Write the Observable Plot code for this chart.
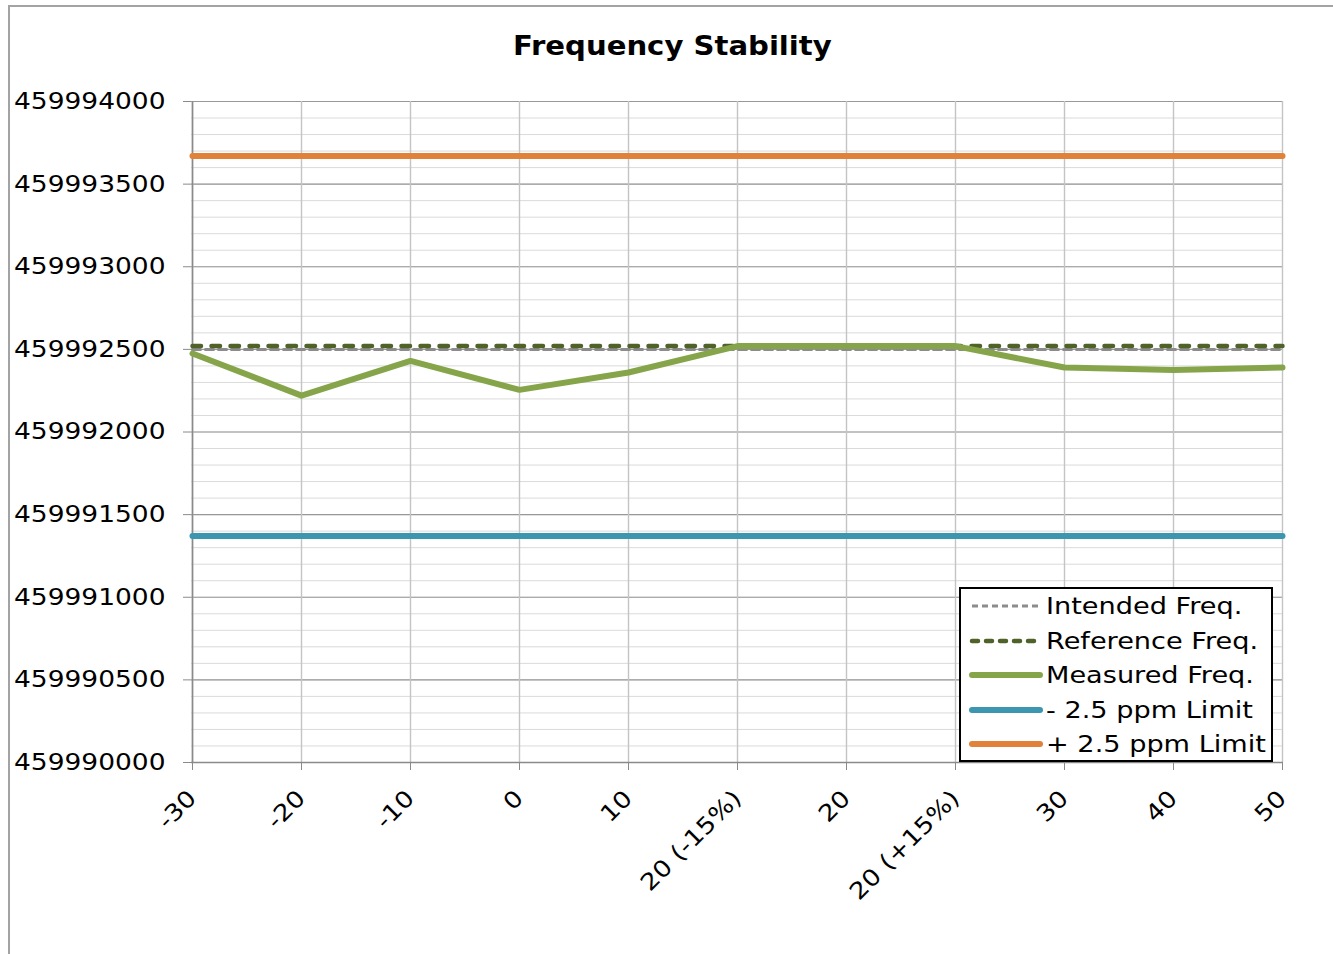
<!DOCTYPE html>
<html>
<head>
<meta charset="utf-8">
<script src="https://cdn.jsdelivr.net/npm/d3@7"></script>
<script src="https://cdn.jsdelivr.net/npm/@observablehq/plot@0.6"></script>
<style>
  html, body { margin: 0; padding: 0; background: #fff; width: 1333px; height: 954px; overflow: hidden; }
  #wrap { position: relative; width: 1333px; height: 954px; font-family: "DejaVu Sans", Verdana, sans-serif; }
  #frame { position: absolute; left: 8px; top: 5px; width: 1400px; height: 1000px; border-left: 2px solid #a3a3a3; border-top: 2px solid #a3a3a3; box-sizing: border-box; pointer-events: none; }
  #chart { position: absolute; left: 0; top: 0; }
  #title { position: absolute; left: 0; top: 31px; width: 1344px; text-align: center; font-weight: bold; font-size: 26px; line-height: 30px; color: #000; }
  #title span { display: inline-block; transform: scaleX(1.12); transform-origin: center; }
  #legend { position: absolute; left: 959px; top: 587px; width: 314px; height: 175px; border: 2px solid #000; box-sizing: border-box; background: #fff; }
  .row { position: absolute; left: 0; height: 30px; width: 310px; }
  .row svg { position: absolute; left: 7px; top: 0; }
  .row span { position: absolute; left: 85px; top: 0; line-height: 30px; font-size: 23px; color: #000; white-space: nowrap; transform: scaleX(1.18); transform-origin: left center; }
</style>
</head>
<body>
<div id="wrap">
  <div id="chart"></div>
  <div id="frame"></div>
  <div id="title"><span>Frequency Stability</span></div>
  <div id="legend"></div>
</div>
<script>
// ---- Data ----
const categories = ["-30", "-20", "-10", "0", "10", "20 (-15%)", "20", "20 (+15%)", "30", "40", "50"];
const measuredFreq = [459992475, 459992220, 459992430, 459992255, 459992360, 459992520, 459992520, 459992520, 459992390, 459992375, 459992390];
const intendedFreq = 459992500;
const referenceFreq = 459992520;
const lowerLimit = 459991370;
const upperLimit = 459993670;
const yTicks = [459990000, 459990500, 459991000, 459991500, 459992000, 459992500, 459993000, 459993500, 459994000];
const seriesNames = ["Intended Freq.", "Reference Freq.", "Measured Freq.", "- 2.5 ppm Limit", "+ 2.5 ppm Limit"];

// ---- Styles ----
const colors = {intended: "#8c8c8c", reference: "#4f6228", measured: "#86a54a", lower: "#3c96b0", upper: "#e0823a"};

const yMin = yTicks[0], yMax = yTicks[yTicks.length - 1];
const minorTicks = d3.range(yMin, yMax + 1, 100);

const constSeries = (v) => categories.map(c => ({cat: c, value: v}));
const measuredData = categories.map((c, i) => ({cat: c, value: measuredFreq[i]}));

const plot = Plot.plot({
  width: 1333,
  height: 954,
  marginLeft: 191,
  marginRight: 50,
  marginTop: 101,
  marginBottom: 192,
  style: {fontFamily: "DejaVu Sans, Verdana, sans-serif", fontSize: "23px", color: "#000", background: "transparent", overflow: "visible"},
  x: {type: "point", domain: categories, padding: 0},
  y: {domain: [yMin, yMax]},
  marks: [
    Plot.ruleY(minorTicks, {stroke: "#dadada", strokeWidth: 1}),
    Plot.ruleY(yTicks, {stroke: "#989898", strokeWidth: 1.2}),
    Plot.ruleX(categories, {stroke: "#c4c4c4", strokeWidth: 1.4}),
    Plot.ruleX([categories[0]], {stroke: "#8a8a8a", strokeWidth: 1.6}),
    Plot.ruleY([yMin], {stroke: "#8a8a8a", strokeWidth: 1.6}),
    Plot.axisY({ticks: yTicks, tickFormat: d3.format("d"), tickSize: 8, tickPadding: 18, stroke: "#8a8a8a", label: null}),
    Plot.axisX({tickRotate: -45, tickSize: 8, tickPadding: 24, stroke: "#8a8a8a", label: null}),
    Plot.line(constSeries(intendedFreq), {x: "cat", y: "value", stroke: colors.intended, strokeWidth: 3, strokeDasharray: "8,5"}),
    Plot.line(constSeries(referenceFreq), {x: "cat", y: "value", stroke: colors.reference, strokeWidth: 4.5, strokeDasharray: "8.5,10.5", strokeLinecap: "round"}),
    Plot.line(measuredData, {x: "cat", y: "value", stroke: colors.measured, strokeWidth: 6}),
    Plot.line(constSeries(lowerLimit), {x: "cat", y: "value", stroke: colors.lower, strokeWidth: 6}),
    Plot.line(constSeries(upperLimit), {x: "cat", y: "value", stroke: colors.upper, strokeWidth: 6})
  ]
});
document.getElementById("chart").appendChild(plot);

// widen tick labels (Verdana-like proportions)
plot.querySelectorAll('g[aria-label="y-axis tick label"] text, g[aria-label="x-axis tick label"] text').forEach(t => {
  const L = t.getComputedTextLength();
  t.setAttribute("textLength", (L * 1.15).toFixed(1));
  t.setAttribute("lengthAdjust", "spacingAndGlyphs");
});

// ---- Legend ----
const legendStyles = [
  {stroke: colors.intended, width: 3, dash: "6,4", cap: "butt"},
  {stroke: colors.reference, width: 4.5, dash: "6,8", cap: "round"},
  {stroke: colors.measured, width: 6, dash: null, cap: "round"},
  {stroke: colors.lower, width: 6, dash: null, cap: "round"},
  {stroke: colors.upper, width: 6, dash: null, cap: "round"}
];
const legend = document.getElementById("legend");
const rowCenters = [17, 51.5, 86, 120.5, 155];
seriesNames.forEach((name, i) => {
  const s = legendStyles[i];
  const row = document.createElement("div");
  row.className = "row";
  row.style.top = (rowCenters[i] - 15) + "px";
  row.innerHTML = `<svg width="76" height="30"><line x1="4" x2="72" y1="15" y2="15" stroke="${s.stroke}" stroke-width="${s.width}" ${s.dash ? `stroke-dasharray="${s.dash}"` : ""} stroke-linecap="${s.cap}"/></svg><span>${name}</span>`;
  legend.appendChild(row);
});
</script>
</body>
</html>
